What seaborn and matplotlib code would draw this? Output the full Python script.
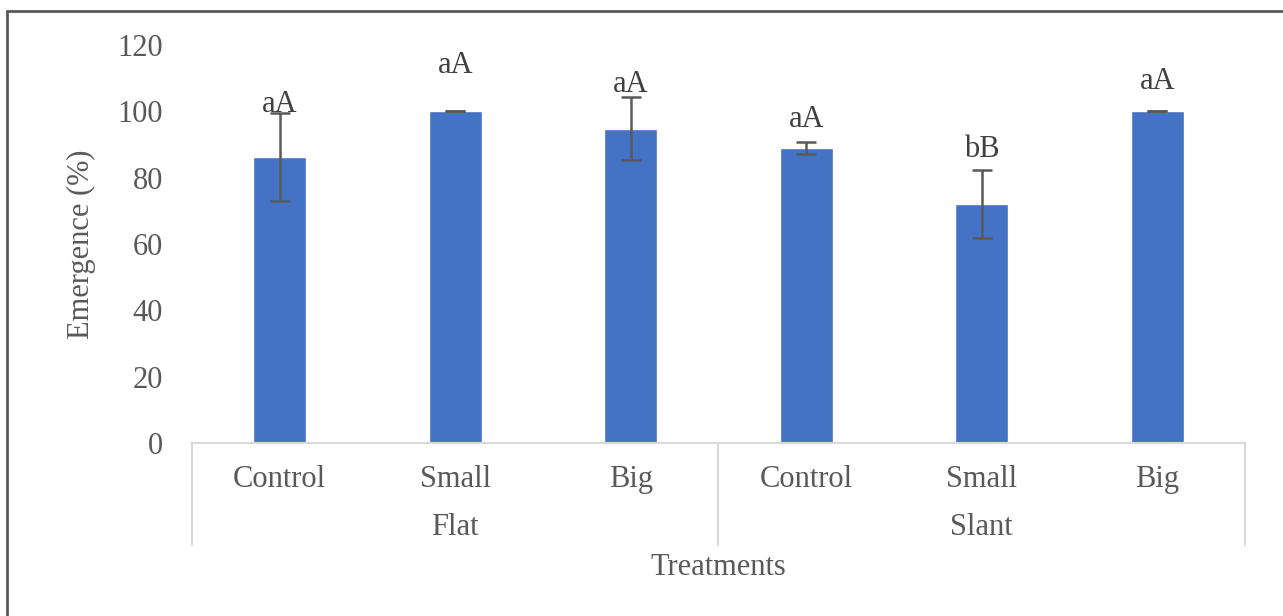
import numpy as np
import pandas as pd
import matplotlib.pyplot as plt
import matplotlib.transforms as mtransforms
from matplotlib.lines import Line2D
import seaborn as sns

# values
groups = ["Flat", "Slant"]
treatments = ["Control", "Small", "Big"]
emergence = [86.2, 100.0, 94.7, 89.0, 72.0, 100.0]
error = [13.2, 0.0, 9.5, 1.9, 10.3, 0.0]
letters = ["aA", "aA", "aA", "aA", "bB", "aA"]
label_y = [99.9, 111.5, 105.8, 95.4, 86.2, 106.6]

sns.set_style("white")
plt.rcParams["font.family"] = ["Liberation Serif", "DejaVu Serif"]

df = pd.DataFrame({"group": np.repeat(groups, len(treatments)),
                   "treatment": treatments * len(groups),
                   "emergence": emergence})
df["key"] = df["group"] + " " + df["treatment"]

txt = "#595959"
fs = 22

fig = plt.figure(figsize=(12.83, 6.16), dpi=100)
ax = fig.add_axes([0.1496, 0.2808, 0.8208, 0.6461])
sns.barplot(data=df, x="key", y="emergence", color="#4472C4", width=0.3,
            saturation=1, errorbar=None, ax=ax)
ax.errorbar(range(len(df)), emergence, yerr=error, fmt="none",
            ecolor=txt, elinewidth=1.8, capsize=7, capthick=1.8)

for i, lab in enumerate(letters):
    ax.text(i, label_y[i], lab, ha="center", va="baseline",
            fontsize=fs, color="#404040")

ax.set_ylim(0, 120)
ax.set_yticks(range(0, 121, 20))
ax.set_xlim(-0.5, len(df) - 0.5)
ax.set_xticks(range(len(df)), labels=df["treatment"])
ax.tick_params(axis="x", length=0, pad=16, labelsize=fs, labelcolor=txt)
ax.tick_params(axis="y", length=0, pad=21, labelsize=fs, labelcolor=txt)
ax.set_xlabel("")
ax.set_ylabel("")
for s in ["left", "top", "right"]:
    ax.spines[s].set_visible(False)
ax.spines["bottom"].set_color("#d9d9d9")
ax.spines["bottom"].set_linewidth(1.5)

# hierarchical category axis
trans = mtransforms.blended_transform_factory(ax.transData, ax.transAxes)
for xs in [-0.5, 2.5, 5.5]:
    ax.plot([xs, xs], [0, -0.256], transform=trans, color="#d9d9d9",
            lw=1.5, clip_on=False)
for j, g in enumerate(groups):
    ax.text(j * 3 + 1, -0.231, g, transform=trans, ha="center",
            va="baseline", fontsize=fs, color=txt)
ax.text(2.5, -0.332, "Treatments", transform=trans, ha="center",
        va="baseline", fontsize=fs, color=txt)
ax.text(-0.105, 0.5, "Emergence (%)", transform=ax.transAxes, rotation=90,
        ha="center", va="center", fontsize=fs, color=txt)

# chart frame (left and top edges visible)
fig.add_artist(Line2D([7 / 1283, 7 / 1283], [0, 1 - 11 / 616],
                      transform=fig.transFigure, color=txt, lw=2))
fig.add_artist(Line2D([7 / 1283, 1], [1 - 11 / 616, 1 - 11 / 616],
                      transform=fig.transFigure, color=txt, lw=2))

fig.savefig("out.png", dpi=100)
